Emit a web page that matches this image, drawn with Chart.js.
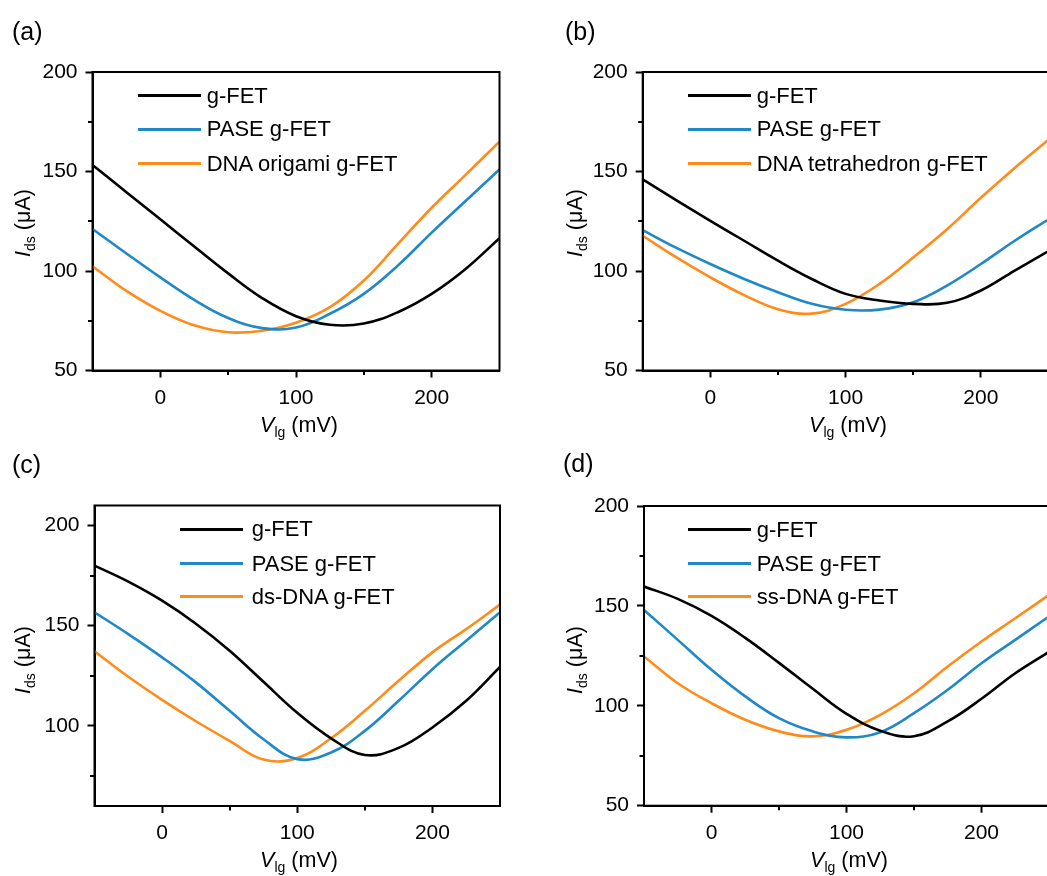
<!DOCTYPE html>
<html>
<head>
<meta charset="utf-8">
<title>Transfer curves of g-FET devices</title>
<script src="https://cdn.jsdelivr.net/npm/chart.js@4.4.1/dist/chart.umd.min.js"></script>
<style>
  html, body { margin: 0; padding: 0; width: 1047px; height: 876px; overflow: hidden; background: #fff; }
  body { position: relative; font-family: "Liberation Sans", Arial, sans-serif; color: #000; }
  canvas { position: absolute; }
  .tag { position: absolute; font-size: 25px; line-height: 1; white-space: nowrap; }
  .xt { position: absolute; font-size: 21.5px; line-height: 1; white-space: nowrap; transform: translateX(-50%); }
  .yt { position: absolute; font-size: 21.5px; line-height: 1; white-space: nowrap; transform: translate(-50%, -50%) rotate(-90deg); }
  .xt sub, .yt sub { font-size: 14px; vertical-align: baseline; position: relative; top: 5px; }
  .sw { position: absolute; width: 63px; height: 3px; }
  .lt { position: absolute; font-size: 22px; line-height: 1; white-space: nowrap; }
</style>
</head>
<body>
<script>
// Gate voltage grid (mV) shared by all curves
const vlg = [-50, -25, 0, 25, 50, 75, 100, 125, 150, 175, 200, 225, 250];
const xTickValues = [0, 100, 200];
const xMinorValues = [50, 150];
const yTickValuesFull = [50, 100, 150, 200];
const yTickValuesC = [100, 150, 200];
const yMinorValues = [75, 125, 175];

// Series names
const namesA = ['g-FET', 'PASE g-FET', 'DNA origami g-FET'];
const namesB = ['g-FET', 'PASE g-FET', 'DNA tetrahedron g-FET'];
const namesC = ['g-FET', 'PASE g-FET', 'ds-DNA g-FET'];
const namesD = ['g-FET', 'PASE g-FET', 'ss-DNA g-FET'];

// Drain-source current (µA), panel (a)
const aGfet   = [153.3, 139.6, 126.0, 112.3, 98.8, 86.4, 77.3, 73.0, 73.6, 79.3, 88.5, 101.0, 116.5];
const aPase   = [121.1, 108.8, 96.8, 85.5, 76.4, 71.3, 71.6, 78.5, 88.5, 102.7, 119.3, 135.2, 151.0];
const aOrigami= [102.4, 90.0, 80.0, 72.7, 69.2, 70.0, 74.0, 81.8, 95.2, 113.5, 131.8, 148.3, 165.0];

// panel (b)
const bGfet   = [146.0, 135.5, 125.2, 115.2, 105.2, 96.0, 88.5, 85.2, 83.5, 84.0, 90.2, 100.2, 110.0];
const bPase   = [120.5, 111.6, 103.5, 96.0, 89.3, 83.5, 80.5, 80.6, 84.3, 92.7, 103.5, 115.2, 126.0];
const bTetra  = [117.7, 106.8, 96.8, 87.9, 80.8, 78.6, 83.5, 93.5, 106.8, 121.0, 136.8, 151.8, 166.0];

// panel (c)
const cGfet   = [180.0, 172.0, 162.5, 151.0, 137.5, 122.0, 106.5, 93.8, 85.5, 89.0, 99.2, 112.5, 129.4];
const cPase   = [156.7, 145.8, 134.2, 121.7, 107.5, 93.3, 83.4, 86.7, 97.5, 112.5, 128.3, 142.5, 156.7];
const cDsDna  = [137.2, 124.5, 113.0, 102.3, 92.5, 83.2, 84.0, 93.8, 107.5, 122.5, 136.7, 148.3, 160.5];

// panel (d)
const dGfet   = [159.7, 153.5, 145.0, 134.0, 121.5, 108.5, 96.0, 87.5, 84.8, 92.2, 103.5, 116.3, 127.0];
const dPase   = [148.0, 133.0, 118.0, 104.7, 93.8, 87.2, 84.2, 86.8, 96.3, 108.0, 121.3, 133.0, 144.7];
const dSsDna  = [124.7, 111.3, 101.3, 93.0, 87.2, 84.7, 88.0, 95.5, 106.3, 119.7, 132.2, 143.8, 155.5];

const lineColors = ['#000000', '#1f88c6', '#ff8c1a'];
const FONT = '"Liberation Sans", Arial, sans-serif';

// Layout of the four panels (canvas box and plot frame in page pixels)
const panels = [
  { tag: '(a)', tagPos: [12, 18.5], box: [0, 0, 520, 440], area: [92.5, 72, 499.5, 370.5],
    yMin: 50, yMax: 200, yTicks: yTickValuesFull, names: namesA, series: [aGfet, aPase, aOrigami],
    legend: [138.3, 206.7, [95.7, 129, 163.3]], xTitle: [299, 414.5], yTitle: [23.5, 223] },
  { tag: '(b)', tagPos: [565, 18.5], box: [520, 0, 545, 440], area: [642.7, 72, 1048.5, 370.5],
    yMin: 50, yMax: 200, yTicks: yTickValuesFull, names: namesB, series: [bGfet, bPase, bTetra],
    legend: [688.3, 756.7, [95.7, 129, 163.3]], xTitle: [848, 414.5], yTitle: [576, 223] },
  { tag: '(c)', tagPos: [12, 452], box: [0, 440, 520, 436], area: [94.5, 505.5, 500, 806],
    yMin: 60, yMax: 210, yTicks: yTickValuesC, names: namesC, series: [cGfet, cPase, cDsDna],
    legend: [180, 251.7, [529, 563.3, 596.7]], xTitle: [299, 849.5], yTitle: [23.5, 660] },
  { tag: '(d)', tagPos: [563, 450.5], box: [520, 440, 545, 436], area: [644, 506, 1049, 805.7],
    yMin: 50, yMax: 200, yTicks: yTickValuesFull, names: namesD, series: [dGfet, dPase, dSsDna],
    legend: [688.3, 756.7, [529.3, 563.3, 596.7]], xTitle: [849, 849.5], yTitle: [576, 660] }
];

// Closed frame around the plot plus the short minor ticks
const framePlugin = {
  id: 'frame',
  afterDraw(chart, args, opts) {
    const { ctx, chartArea: a, scales: { x, y } } = chart;
    ctx.save();
    ctx.strokeStyle = '#000';
    ctx.lineWidth = 2;
    ctx.strokeRect(a.left, a.top, a.right - a.left, a.bottom - a.top);
    ctx.beginPath();
    opts.xMinor.forEach(v => {
      const px = Math.round(x.getPixelForValue(v));
      ctx.moveTo(px, a.bottom); ctx.lineTo(px, a.bottom + 4.5);
    });
    opts.yMinor.forEach(v => {
      const py = Math.round(y.getPixelForValue(v));
      ctx.moveTo(a.left, py); ctx.lineTo(a.left - 4.5, py);
    });
    ctx.stroke();
    ctx.restore();
  }
};

function el(cls, html, left, top) {
  const d = document.createElement('div');
  d.className = cls;
  d.innerHTML = html;
  d.style.left = left + 'px';
  d.style.top = top + 'px';
  document.body.appendChild(d);
  return d;
}

panels.forEach(p => {
  const [bx, by, bw, bh] = p.box;
  const [al, at, ar, ab] = p.area;
  const cv = document.createElement('canvas');
  cv.width = bw; cv.height = bh;
  cv.style.left = bx + 'px'; cv.style.top = by + 'px';
  cv.style.width = bw + 'px'; cv.style.height = bh + 'px';
  document.body.appendChild(cv);

  const tickFont = { family: FONT, size: 21 };
  new Chart(cv.getContext('2d'), {
    type: 'line',
    data: {
      datasets: p.series.map((s, i) => ({
        label: p.names[i],
        data: vlg.map((v, j) => ({ x: v, y: s[j] })),
        borderColor: lineColors[i],
        borderWidth: 2.6,
        pointRadius: 0,
        fill: false,
        tension: 0.4
      }))
    },
    options: {
      responsive: false,
      animation: false,
      devicePixelRatio: 1,
      layout: { padding: { left: 0, top: at - by, right: bx + bw - ar, bottom: 0 } },
      plugins: {
        legend: { display: false },
        tooltip: { enabled: false },
        frame: { xMinor: xMinorValues, yMinor: yMinorValues }
      },
      scales: {
        x: {
          type: 'linear', min: -50, max: 250,
          afterBuildTicks: s => { s.ticks = xTickValues.map(v => ({ value: v })); },
          afterFit: s => { s.height = by + bh - ab; },
          grid: { drawOnChartArea: false, drawTicks: true, tickLength: 7, tickWidth: 2, tickColor: '#000' },
          border: { display: true, color: '#000', width: 2 },
          ticks: { color: '#000', font: tickFont, padding: 8, maxRotation: 0 }
        },
        y: {
          type: 'linear', min: p.yMin, max: p.yMax,
          afterBuildTicks: s => { s.ticks = p.yTicks.map(v => ({ value: v })); },
          afterFit: s => { s.width = al - bx; },
          grid: { drawOnChartArea: false, drawTicks: true, tickLength: 7, tickWidth: 2, tickColor: '#000' },
          border: { display: true, color: '#000', width: 2 },
          ticks: { color: '#000', font: tickFont, padding: 8 }
        }
      }
    },
    plugins: [framePlugin]
  });

  // Panel tag, axis titles and legend
  el('tag', p.tag, p.tagPos[0], p.tagPos[1]);
  el('xt', '<i>V</i><sub>lg</sub> (mV)', p.xTitle[0], p.xTitle[1]);
  el('yt', '<i>I</i><sub>ds</sub> (μA)', p.yTitle[0], p.yTitle[1]);
  const [lx, tx, rows] = p.legend;
  p.names.forEach((n, i) => {
    const sw = el('sw', '', lx, rows[i] - 1.5);
    sw.style.background = lineColors[i];
    el('lt', n, tx, rows[i] - 10.8);
  });
});
</script>
</body>
</html>
